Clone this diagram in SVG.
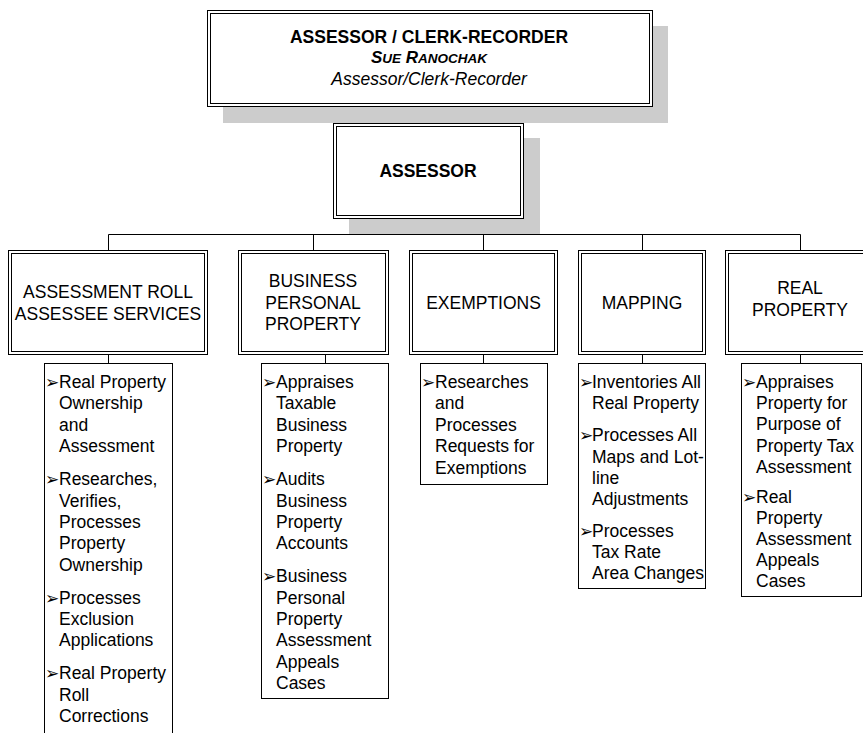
<svg xmlns="http://www.w3.org/2000/svg" width="863" height="733" viewBox="0 0 863 733">
<style>
.bg{fill:#ffffff}
.sh{fill:#cccccc;stroke:none}
.box{fill:#ffffff;stroke:#000;stroke-width:1}
.inner{fill:none;stroke:#000;stroke-width:1}
.ln{stroke:#000;stroke-width:1;fill:none}
text{font-family:"Liberation Sans",Arial,sans-serif;fill:#000}
.hd{font-size:17.5px;text-anchor:middle}
.bd{font-weight:bold}
.li{font-size:17.5px}
.bu{font-family:"DejaVu Sans",sans-serif;font-size:17px}
</style>
<rect class="bg" x="0" y="0" width="863" height="733"/>
<g id="connectors">
<path class="ln" d="M429.5 106V123"/>
<path class="ln" d="M429.5 218V234.5M108.5 234.5H800.5M108.5 234.5V250M313.5 234.5V250M483.5 234.5V250M642.5 234.5V250M800.5 234.5V250"/>
<path class="ln" d="M108.5 354V363M325.5 354V363M483.5 354V363M642.5 354V363M800.5 354V363"/>
</g>
<g id="top">
<rect class="sh" x="223" y="26" width="445" height="97"/>
<rect class="box" x="207.5" y="10.5" width="445" height="96"/>
<rect class="inner" x="210.5" y="13.5" width="439" height="90"/>
<text class="hd bd" x="429" y="42.5">ASSESSOR / CLERK-RECORDER</text>
<text class="hd bd" x="429" y="63" style="font-style:italic;font-size:17px">S<tspan font-size="13.5">UE</tspan> R<tspan font-size="13.5">ANOCHAK</tspan></text>
<text class="hd" x="429" y="84.5" style="font-style:italic">Assessor/Clerk-Recorder</text>
</g>
<g id="assessor">
<rect class="sh" x="349" y="138" width="191" height="96"/>
<rect class="box" x="333.5" y="123.5" width="190" height="95"/>
<rect class="inner" x="336.5" y="126.5" width="184" height="89"/>
<text class="hd bd" x="428" y="177">ASSESSOR</text>
</g>
<g id="h1">
<rect class="box" x="8.5" y="250.5" width="199" height="104"/>
<rect class="inner" x="11.5" y="253.5" width="193" height="98"/>
<text class="hd" x="108" y="298">ASSESSMENT ROLL</text>
<text class="hd" x="108" y="319.5">ASSESSEE SERVICES</text>
</g>
<g id="h2">
<rect class="box" x="238.5" y="250.5" width="150" height="104"/>
<rect class="inner" x="241.5" y="253.5" width="144" height="98"/>
<text class="hd" x="313" y="287">BUSINESS</text>
<text class="hd" x="313" y="308.5">PERSONAL</text>
<text class="hd" x="313" y="330">PROPERTY</text>
</g>
<g id="h3">
<rect class="box" x="409.5" y="250.5" width="148" height="104"/>
<rect class="inner" x="412.5" y="253.5" width="142" height="98"/>
<text class="hd" x="483.5" y="308.5">EXEMPTIONS</text>
</g>
<g id="h4">
<rect class="box" x="578.5" y="250.5" width="127" height="104"/>
<rect class="inner" x="581.5" y="253.5" width="121" height="98"/>
<text class="hd" x="642" y="308.5">MAPPING</text>
</g>
<g id="h5">
<rect class="box" x="725.5" y="250.5" width="150" height="104"/>
<rect class="inner" x="728.5" y="253.5" width="144" height="98"/>
<text class="hd" x="800" y="294">REAL</text>
<text class="hd" x="800" y="315.5">PROPERTY</text>
</g>
<g id="l1">
<rect class="box" x="44.5" y="363.5" width="128" height="380"/>
<text class="li" x="45" y="388"><tspan class="bu">➢</tspan><tspan x="59">Real Property</tspan></text>
<text class="li" x="59" y="409.4">Ownership</text>
<text class="li" x="59" y="430.8">and</text>
<text class="li" x="59" y="452.2">Assessment</text>
<text class="li" x="45" y="485.1"><tspan class="bu">➢</tspan><tspan x="59">Researches,</tspan></text>
<text class="li" x="59" y="506.5">Verifies,</text>
<text class="li" x="59" y="527.9">Processes</text>
<text class="li" x="59" y="549.3">Property</text>
<text class="li" x="59" y="570.7">Ownership</text>
<text class="li" x="45" y="603.6"><tspan class="bu">➢</tspan><tspan x="59">Processes</tspan></text>
<text class="li" x="59" y="625">Exclusion</text>
<text class="li" x="59" y="646.4">Applications</text>
<text class="li" x="45" y="679.3"><tspan class="bu">➢</tspan><tspan x="59">Real Property</tspan></text>
<text class="li" x="59" y="700.7">Roll</text>
<text class="li" x="59" y="722.1">Corrections</text>
</g>
<g id="l2">
<rect class="box" x="261.5" y="363.5" width="127" height="335"/>
<text class="li" x="262" y="388"><tspan class="bu">➢</tspan><tspan x="276">Appraises</tspan></text>
<text class="li" x="276" y="409.4">Taxable</text>
<text class="li" x="276" y="430.8">Business</text>
<text class="li" x="276" y="452.2">Property</text>
<text class="li" x="262" y="485.1"><tspan class="bu">➢</tspan><tspan x="276">Audits</tspan></text>
<text class="li" x="276" y="506.5">Business</text>
<text class="li" x="276" y="527.9">Property</text>
<text class="li" x="276" y="549.3">Accounts</text>
<text class="li" x="262" y="582.2"><tspan class="bu">➢</tspan><tspan x="276">Business</tspan></text>
<text class="li" x="276" y="603.6">Personal</text>
<text class="li" x="276" y="625">Property</text>
<text class="li" x="276" y="646.4">Assessment</text>
<text class="li" x="276" y="667.8">Appeals</text>
<text class="li" x="276" y="689.2">Cases</text>
</g>
<g id="l3">
<rect class="box" x="420.5" y="363.5" width="127" height="121"/>
<text class="li" x="421" y="388"><tspan class="bu">➢</tspan><tspan x="435">Researches</tspan></text>
<text class="li" x="435" y="409.4">and</text>
<text class="li" x="435" y="430.8">Processes</text>
<text class="li" x="435" y="452.2">Requests for</text>
<text class="li" x="435" y="473.6">Exemptions</text>
</g>
<g id="l4">
<rect class="box" x="578.5" y="363.5" width="127" height="225"/>
<text class="li" x="579" y="388"><tspan class="bu">➢</tspan><tspan x="592">Inventories All</tspan></text>
<text class="li" x="592" y="409.4">Real Property</text>
<text class="li" x="579" y="441.3"><tspan class="bu">➢</tspan><tspan x="592">Processes All</tspan></text>
<text class="li" x="592" y="462.5">Maps and Lot-</text>
<text class="li" x="592" y="483.7">line</text>
<text class="li" x="592" y="504.9">Adjustments</text>
<text class="li" x="579" y="536.8"><tspan class="bu">➢</tspan><tspan x="592">Processes</tspan></text>
<text class="li" x="592" y="558">Tax Rate</text>
<text class="li" x="592" y="579.2">Area Changes</text>
</g>
<g id="l5">
<rect class="box" x="741.5" y="363.5" width="120" height="233"/>
<text class="li" x="742" y="388"><tspan class="bu">➢</tspan><tspan x="756">Appraises</tspan></text>
<text class="li" x="756" y="409.2">Property for</text>
<text class="li" x="756" y="430.4">Purpose of</text>
<text class="li" x="756" y="451.6">Property Tax</text>
<text class="li" x="756" y="472.8">Assessment</text>
<text class="li" x="742" y="502.5"><tspan class="bu">➢</tspan><tspan x="756">Real</tspan></text>
<text class="li" x="756" y="523.7">Property</text>
<text class="li" x="756" y="544.9">Assessment</text>
<text class="li" x="756" y="566.1">Appeals</text>
<text class="li" x="756" y="587.3">Cases</text>
</g>
</svg>
